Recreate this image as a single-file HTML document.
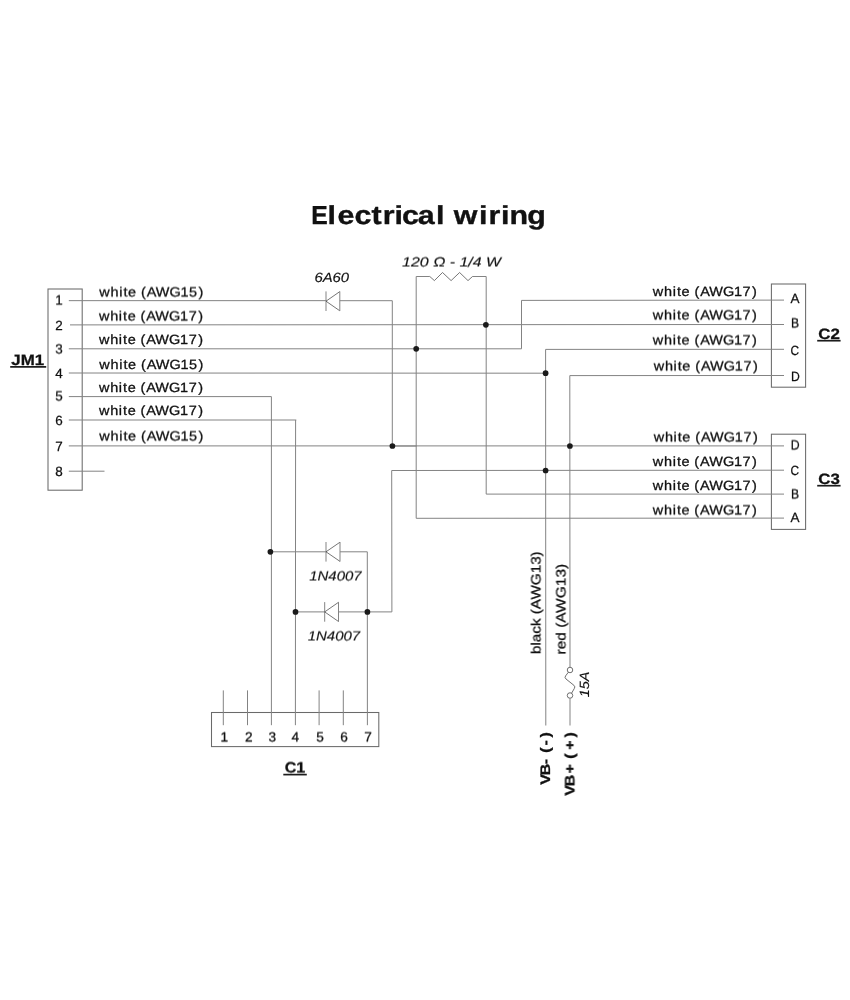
<!DOCTYPE html>
<html><head><meta charset="utf-8"><title>Electrical wiring</title>
<style>
html,body{margin:0;padding:0;background:#fff;}
svg{display:block;will-change:transform;text-rendering:geometricPrecision;}
text{font-family:"Liberation Sans",sans-serif;fill:#111111;stroke:#111111;stroke-linejoin:round;}
</style></head>
<body>
<svg width="850" height="1000" viewBox="0 0 850 1000">
<defs>
<filter id="hy" x="0" y="0" width="850" height="1000" filterUnits="userSpaceOnUse" color-interpolation-filters="sRGB"><feConvolveMatrix order="1 2" kernelMatrix="0.5 0.5" targetX="0" targetY="1" edgeMode="none" preserveAlpha="false"/></filter>
<filter id="hx" x="0" y="0" width="850" height="1000" filterUnits="userSpaceOnUse" color-interpolation-filters="sRGB"><feConvolveMatrix order="2 1" kernelMatrix="0.5 0.5" targetX="1" targetY="0" edgeMode="none" preserveAlpha="false"/></filter>
</defs>
<rect x="0" y="0" width="850" height="1000" fill="#ffffff"/>
<g fill="none" stroke="#838383" stroke-width="1.0" stroke-linecap="butt" stroke-linejoin="miter">
<rect x="48.00" y="289.00" width="34.20" height="201.20" stroke="#6a6a6a" stroke-width="1.05"/>
<rect x="771.40" y="284.00" width="34.20" height="103.20" stroke="#6a6a6a" stroke-width="1.05"/>
<rect x="771.40" y="434.20" width="34.20" height="95.20" stroke="#6a6a6a" stroke-width="1.05"/>
<rect x="211.50" y="712.50" width="167.30" height="34.10" stroke="#6a6a6a" stroke-width="1.05"/>
<polyline points="68.80,300.65 326.00,300.65"/>
<polyline points="339.80,300.70 392.30,300.70 392.30,446.00"/>
<polyline points="70.00,324.90 784.00,324.50"/>
<polyline points="68.80,348.80 521.50,348.80 521.50,300.40 784.00,300.10"/>
<polyline points="68.80,373.00 545.60,373.20"/>
<polyline points="68.80,396.60 271.40,396.60 271.40,725.20"/>
<polyline points="68.80,420.00 296.30,420.00"/>
<polyline points="295.60,420.00 295.40,725.20"/>
<polyline points="68.80,445.90 784.00,445.90"/>
<polyline points="68.80,471.20 104.50,471.20"/>
<polyline points="392.30,446.05 416.70,446.05"/>
<polyline points="784.00,349.30 545.60,349.40 545.80,725.50"/>
<polyline points="784.00,375.50 569.80,375.60 570.00,667.00"/>
<polyline points="570.00,698.50 570.00,725.50"/>
<polyline points="784.00,470.20 391.70,470.50 391.90,611.90 338.50,611.90"/>
<polyline points="784.00,494.10 486.20,494.10 486.20,276.50 472.50,276.50"/>
<polyline points="472.50,276.50 468.00,280.60 459.60,272.50 451.10,280.60 442.50,272.50 434.40,280.60 429.80,276.50" stroke="#4a4a4a" stroke-width="0.75"/>
<polyline points="429.80,276.50 416.20,276.50 416.20,518.30 784.00,518.10"/>
<polyline points="270.40,551.80 326.00,551.80"/>
<polyline points="340.00,551.80 367.30,551.80 367.40,725.20"/>
<polyline points="295.50,611.90 324.70,611.90"/>
<polyline points="223.30,690.40 223.30,725.20"/>
<polyline points="247.50,690.40 247.50,725.20"/>
<polyline points="319.10,690.40 319.10,725.20"/>
<polyline points="343.30,690.40 343.30,725.20"/>
<line x1="326.0" y1="291.4" x2="326.0" y2="311.0"/>
<polyline points="339.8,291.6 326.0,301.2 339.8,310.8" stroke="#3a3a3a" stroke-width="0.7"/>
<line x1="339.8" y1="291.4" x2="339.8" y2="311.0"/>
<line x1="326.0" y1="542.0" x2="326.0" y2="561.6"/>
<polyline points="340.0,542.2 326.0,551.8 340.0,561.4" stroke="#3a3a3a" stroke-width="0.7"/>
<line x1="340.0" y1="542.0" x2="340.0" y2="561.6"/>
<line x1="324.7" y1="602.1" x2="324.7" y2="621.7"/>
<polyline points="338.5,602.3 324.7,611.9 338.5,621.5" stroke="#3a3a3a" stroke-width="0.7"/>
<line x1="338.5" y1="602.1" x2="338.5" y2="621.7"/>
<g stroke="#4a4a4a" stroke-width="0.8"><circle cx="570.0" cy="670.0" r="2.75" fill="#fff"/>
<circle cx="570.0" cy="695.5" r="2.75" fill="#fff"/>
<path d="M568.3,672.3 L565.6,675.9 Q564.3,677.6 566.0,679.0 L573.9,685.3 Q575.6,686.8 574.3,688.5 L571.6,693.2" stroke-linejoin="round"/></g>
</g>
<g fill="#1a1a1a">
<circle cx="485.9" cy="324.8" r="2.85"/>
<circle cx="416.2" cy="348.8" r="2.85"/>
<circle cx="545.6" cy="373.2" r="2.85"/>
<circle cx="392.4" cy="446.0" r="2.85"/>
<circle cx="569.9" cy="446.0" r="2.85"/>
<circle cx="545.6" cy="470.5" r="2.85"/>
<circle cx="270.4" cy="551.8" r="2.85"/>
<circle cx="295.5" cy="611.9" r="2.85"/>
<circle cx="367.4" cy="611.9" r="2.85"/>
</g>
<g stroke="#1c1c1c" stroke-width="1.7">
<line x1="10.2" y1="366.9" x2="46.2" y2="366.9"/>
<line x1="817.2" y1="340.7" x2="840.6" y2="340.7"/>
<line x1="817.2" y1="485.7" x2="840.6" y2="485.7"/>
<line x1="283.3" y1="774.6" x2="306.8" y2="774.6"/>
</g>
<g>
<text transform="translate(0,224) scale(1.17,1)" y="0" font-size="26.0" stroke-width="0.35" font-weight="bold"><tspan x="266.11" textLength="14.08" lengthAdjust="spacingAndGlyphs">E</tspan><tspan x="279.91 288.48 302.90 317.51 327.10 337.26 343.58 356.96 372.73 382.91 387.81 409.39 417.57 428.11 435.38 450.73">lectrical wiring</tspan></text>
<text transform="translate(0,344) scale(1.08,1)" x="91.59 101.99 110.00 113.97 118.19 127.59 130.12 135.44 143.85 156.57 166.69 174.74 183.47" y="0" font-size="13.4" stroke-width="0.3">white (AWG17)</text>
<text transform="translate(0,369) scale(1.08,1)" x="91.93 102.33 110.34 114.31 118.53 127.94 130.47 135.78 144.20 156.92 167.04 175.10 183.81" y="0" font-size="13.4" stroke-width="0.3">white (AWG15)</text>
<text transform="translate(0,392) scale(1.08,1)" x="91.59 101.99 110.00 113.97 118.19 127.59 130.12 135.44 143.85 156.57 166.69 174.74 183.47" y="0" font-size="13.4" stroke-width="0.3">white (AWG17)</text>
<text transform="translate(0,415) scale(1.08,1)" x="91.59 101.99 110.00 113.97 118.19 127.59 130.12 135.44 143.85 156.57 166.69 174.74 183.47" y="0" font-size="13.4" stroke-width="0.3">white (AWG17)</text>
<text transform="translate(0,296) scale(1.08,1)" x="604.46 614.86 622.87 626.84 631.06 640.46 642.99 648.31 656.73 669.44 679.56 687.61 696.34" y="0" font-size="13.4" stroke-width="0.3">white (AWG17)</text>
<text transform="translate(0,466) scale(1.08,1)" x="604.41 614.81 622.82 626.79 631.01 640.42 642.95 648.26 656.68 669.40 679.52 687.56 696.29" y="0" font-size="13.4" stroke-width="0.3">white (AWG17)</text>
<text transform="translate(0,490) scale(1.08,1)" x="604.41 614.81 622.82 626.79 631.01 640.42 642.95 648.26 656.68 669.40 679.52 687.56 696.29" y="0" font-size="13.4" stroke-width="0.3">white (AWG17)</text>
<text x="55.30" y="330" textLength="7.50" lengthAdjust="spacingAndGlyphs" font-size="13.3" stroke-width="0.25">2</text>
<text x="55.30" y="378" textLength="7.50" lengthAdjust="spacingAndGlyphs" font-size="13.3" stroke-width="0.25">4</text>
<text x="55.30" y="425" textLength="7.50" lengthAdjust="spacingAndGlyphs" font-size="13.3" stroke-width="0.25">6</text>
<text x="55.30" y="451" textLength="7.50" lengthAdjust="spacingAndGlyphs" font-size="13.3" stroke-width="0.25">7</text>
<text x="55.30" y="476" textLength="7.50" lengthAdjust="spacingAndGlyphs" font-size="13.3" stroke-width="0.25">8</text>
<text x="790.50" y="303" textLength="9.00" lengthAdjust="spacingAndGlyphs" font-size="13.3" stroke-width="0.25">A</text>
<text x="790.50" y="355" textLength="8.60" lengthAdjust="spacingAndGlyphs" font-size="13.3" stroke-width="0.25">C</text>
<text x="790.90" y="381" textLength="8.80" lengthAdjust="spacingAndGlyphs" font-size="13.3" stroke-width="0.25">D</text>
<text x="790.50" y="475" textLength="8.60" lengthAdjust="spacingAndGlyphs" font-size="13.3" stroke-width="0.25">C</text>
<text x="790.50" y="522" textLength="9.00" lengthAdjust="spacingAndGlyphs" font-size="13.3" stroke-width="0.25">A</text>
<text x="11.30" y="365" textLength="32.80" lengthAdjust="spacingAndGlyphs" font-size="15.0" stroke-width="0.3" font-weight="bold">JM1</text>
<text x="818.20" y="339" textLength="21.60" lengthAdjust="spacingAndGlyphs" font-size="15.0" stroke-width="0.3" font-weight="bold">C2</text>
<text x="818.20" y="484" textLength="21.60" lengthAdjust="spacingAndGlyphs" font-size="15.0" stroke-width="0.3" font-weight="bold">C3</text>
<text x="314.40" y="282" textLength="34.70" lengthAdjust="spacingAndGlyphs" font-size="13.4" stroke-width="0.15" font-style="italic">6A60</text>
<text transform="translate(589,697.20) rotate(-90)" x="0" y="0" textLength="25.60" lengthAdjust="spacingAndGlyphs" font-size="13.4" stroke-width="0.15" font-style="italic">15A</text>
<text transform="translate(550,0) rotate(-90) scale(1.15,1)" x="-682.47 -674.22 -664.51 -657.39 -654.59 -648.25 -641.22" y="0" font-size="13.8" stroke-width="0.3" font-weight="bold">VB- (-)</text>
</g>
<g filter="url(#hy)">
<text transform="translate(0,296) scale(1.08,1)" x="91.93 102.33 110.34 114.31 118.53 127.94 130.47 135.78 144.20 156.92 167.04 175.10 183.81" y="0" font-size="13.4" stroke-width="0.3">white (AWG15)</text>
<text transform="translate(0,320) scale(1.08,1)" x="91.59 101.99 110.00 113.97 118.19 127.59 130.12 135.44 143.85 156.57 166.69 174.74 183.47" y="0" font-size="13.4" stroke-width="0.3">white (AWG17)</text>
<text transform="translate(0,440) scale(1.08,1)" x="91.93 102.33 110.34 114.31 118.53 127.94 130.47 135.78 144.20 156.92 167.04 175.10 183.81" y="0" font-size="13.4" stroke-width="0.3">white (AWG15)</text>
<text transform="translate(0,319) scale(1.08,1)" x="604.46 614.86 622.87 626.84 631.06 640.46 642.99 648.31 656.73 669.44 679.56 687.61 696.34" y="0" font-size="13.4" stroke-width="0.3">white (AWG17)</text>
<text transform="translate(0,344) scale(1.08,1)" x="604.46 614.86 622.87 626.84 631.06 640.46 642.99 648.31 656.73 669.44 679.56 687.61 696.34" y="0" font-size="13.4" stroke-width="0.3">white (AWG17)</text>
<text transform="translate(0,370) scale(1.08,1)" x="605.25 615.64 623.65 627.62 631.84 641.25 643.78 649.10 657.51 670.23 680.35 688.40 697.13" y="0" font-size="13.4" stroke-width="0.3">white (AWG17)</text>
<text transform="translate(0,441) scale(1.08,1)" x="605.25 615.64 623.65 627.62 631.84 641.25 643.78 649.10 657.51 670.23 680.35 688.40 697.13" y="0" font-size="13.4" stroke-width="0.3">white (AWG17)</text>
<text transform="translate(0,514) scale(1.08,1)" x="604.41 614.81 622.82 626.79 631.01 640.42 642.95 648.26 656.68 669.40 679.52 687.56 696.29" y="0" font-size="13.4" stroke-width="0.3">white (AWG17)</text>
<text x="55.30" y="304" textLength="7.50" lengthAdjust="spacingAndGlyphs" font-size="13.3" stroke-width="0.25">1</text>
<text x="55.30" y="353" textLength="7.50" lengthAdjust="spacingAndGlyphs" font-size="13.3" stroke-width="0.25">3</text>
<text x="55.30" y="400" textLength="7.50" lengthAdjust="spacingAndGlyphs" font-size="13.3" stroke-width="0.25">5</text>
<text x="791.10" y="327" textLength="8.10" lengthAdjust="spacingAndGlyphs" font-size="13.3" stroke-width="0.25">B</text>
<text x="790.80" y="449" textLength="8.90" lengthAdjust="spacingAndGlyphs" font-size="13.3" stroke-width="0.25">D</text>
<text x="791.00" y="498" textLength="8.10" lengthAdjust="spacingAndGlyphs" font-size="13.3" stroke-width="0.25">B</text>
<text x="220.60" y="741" textLength="7.60" lengthAdjust="spacingAndGlyphs" font-size="13.4" stroke-width="0.3">1</text>
<text x="244.90" y="741" textLength="7.60" lengthAdjust="spacingAndGlyphs" font-size="13.4" stroke-width="0.3">2</text>
<text x="268.50" y="741" textLength="7.60" lengthAdjust="spacingAndGlyphs" font-size="13.4" stroke-width="0.3">3</text>
<text x="291.50" y="741" textLength="7.60" lengthAdjust="spacingAndGlyphs" font-size="13.4" stroke-width="0.3">4</text>
<text x="316.20" y="741" textLength="7.60" lengthAdjust="spacingAndGlyphs" font-size="13.4" stroke-width="0.3">5</text>
<text x="340.20" y="741" textLength="7.60" lengthAdjust="spacingAndGlyphs" font-size="13.4" stroke-width="0.3">6</text>
<text x="364.30" y="741" textLength="7.60" lengthAdjust="spacingAndGlyphs" font-size="13.4" stroke-width="0.3">7</text>
<text x="284.70" y="772" textLength="20.60" lengthAdjust="spacingAndGlyphs" font-size="15.0" stroke-width="0.3" font-weight="bold">C1</text>
<text x="402.10" y="266" textLength="99.00" lengthAdjust="spacingAndGlyphs" font-size="13.4" stroke-width="0.15" font-style="italic">120 Ω - 1/4 W</text>
<text x="309.20" y="580" textLength="52.50" lengthAdjust="spacingAndGlyphs" font-size="13.4" stroke-width="0.15" font-style="italic">1N4007</text>
<text x="307.70" y="640" textLength="52.50" lengthAdjust="spacingAndGlyphs" font-size="13.4" stroke-width="0.15" font-style="italic">1N4007</text>
</g>
<g filter="url(#hx)">
<text transform="translate(540,654.00) rotate(-90)" x="0" y="0" textLength="102.70" lengthAdjust="spacingAndGlyphs" font-size="13.4" stroke-width="0.3">black (AWG13)</text>
<text transform="translate(565,654.50) rotate(-90)" x="0" y="0" textLength="90.70" lengthAdjust="spacingAndGlyphs" font-size="13.4" stroke-width="0.3">red (AWG13)</text>
<text transform="translate(574,0) rotate(-90) scale(1.15,1)" x="-692.04 -683.65 -672.65 -661.74 -659.81 -651.93 -641.22" y="0" font-size="13.8" stroke-width="0.3" font-weight="bold">VB+ (+)</text>
</g>
</svg>
</body></html>
